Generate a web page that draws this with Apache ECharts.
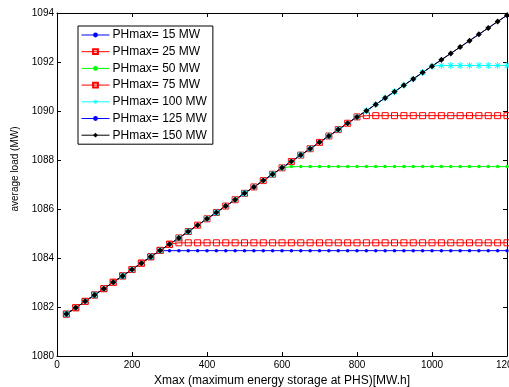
<!DOCTYPE html>
<html>
<head>
<meta charset="utf-8">
<script src="https://cdn.jsdelivr.net/npm/echarts@6/dist/echarts.min.js"></script>
<style>
html,body{margin:0;padding:0;background:#fff;}
#chart{width:509px;height:387px;}
</style>
</head>
<body>
<div id="chart"></div>
<script>
// X values: Xmax (maximum energy storage at PHS) [MW.h]
var xValues = [25,50,75,100,125,150,175,200,225,250,
  275,300,325,350,375,400,425,450,475,500,
  525,550,575,600,625,650,675,700,725,750,
  775,800,825,850,875,900,925,950,975,1000,
  1025,1050,1075,1100,1125,1150,1175,1200];

var seriesNames = ['PHmax= 15 MW','PHmax= 25 MW','PHmax= 50 MW','PHmax= 75 MW','PHmax= 100 MW','PHmax= 125 MW','PHmax= 150 MW'];

var s15 = [1081.71,1081.97,1082.23,1082.49,1082.75,1083.01,1083.27,1083.53,1083.79,1084.05,
  1084.30,1084.30,1084.30,1084.30,1084.30,1084.30,1084.30,1084.30,1084.30,1084.30,
  1084.30,1084.30,1084.30,1084.30,1084.30,1084.30,1084.30,1084.30,1084.30,1084.30,
  1084.30,1084.30,1084.30,1084.30,1084.30,1084.30,1084.30,1084.30,1084.30,1084.30,
  1084.30,1084.30,1084.30,1084.30,1084.30,1084.30,1084.30,1084.30];

var s25 = [1081.71,1081.97,1082.23,1082.49,1082.75,1083.01,1083.27,1083.53,1083.79,1084.05,
  1084.31,1084.56,1084.62,1084.62,1084.62,1084.62,1084.62,1084.62,1084.62,1084.62,
  1084.62,1084.62,1084.62,1084.62,1084.62,1084.62,1084.62,1084.62,1084.62,1084.62,
  1084.62,1084.62,1084.62,1084.62,1084.62,1084.62,1084.62,1084.62,1084.62,1084.62,
  1084.62,1084.62,1084.62,1084.62,1084.62,1084.62,1084.62,1084.62];

var s50 = [1081.71,1081.97,1082.23,1082.49,1082.75,1083.01,1083.27,1083.53,1083.79,1084.05,
  1084.31,1084.56,1084.82,1085.08,1085.34,1085.60,1085.86,1086.12,1086.38,1086.64,
  1086.90,1087.16,1087.42,1087.68,1087.73,1087.73,1087.73,1087.73,1087.73,1087.73,
  1087.73,1087.73,1087.73,1087.73,1087.73,1087.73,1087.73,1087.73,1087.73,1087.73,
  1087.73,1087.73,1087.73,1087.73,1087.73,1087.73,1087.73,1087.73];

var s75 = [1081.71,1081.97,1082.23,1082.49,1082.75,1083.01,1083.27,1083.53,1083.79,1084.05,
  1084.31,1084.56,1084.82,1085.08,1085.34,1085.60,1085.86,1086.12,1086.38,1086.64,
  1086.90,1087.16,1087.42,1087.68,1087.94,1088.20,1088.46,1088.72,1088.98,1089.24,
  1089.50,1089.76,1089.81,1089.81,1089.81,1089.81,1089.81,1089.81,1089.81,1089.81,
  1089.81,1089.81,1089.81,1089.81,1089.81,1089.81,1089.81,1089.81];

var s100 = [1081.71,1081.97,1082.23,1082.49,1082.75,1083.01,1083.27,1083.53,1083.79,1084.05,
  1084.31,1084.56,1084.82,1085.08,1085.34,1085.60,1085.86,1086.12,1086.38,1086.64,
  1086.90,1087.16,1087.42,1087.68,1087.94,1088.20,1088.46,1088.72,1088.98,1089.24,
  1089.50,1089.76,1090.01,1090.27,1090.53,1090.79,1091.05,1091.31,1091.57,1091.83,
  1091.86,1091.86,1091.86,1091.86,1091.86,1091.86,1091.86,1091.86];

var s125 = [1081.71,1081.97,1082.23,1082.49,1082.75,1083.01,1083.27,1083.53,1083.79,1084.05,
  1084.31,1084.56,1084.82,1085.08,1085.34,1085.60,1085.86,1086.12,1086.38,1086.64,
  1086.90,1087.16,1087.42,1087.68,1087.94,1088.20,1088.46,1088.72,1088.98,1089.24,
  1089.50,1089.76,1090.01,1090.27,1090.53,1090.79,1091.05,1091.31,1091.57,1091.83,
  1092.09,1092.35,1092.61,1092.87,1093.13,1093.39,1093.65,1093.91];

var s150 = [1081.71,1081.97,1082.23,1082.49,1082.75,1083.01,1083.27,1083.53,1083.79,1084.05,
  1084.31,1084.56,1084.82,1085.08,1085.34,1085.60,1085.86,1086.12,1086.38,1086.64,
  1086.90,1087.16,1087.42,1087.68,1087.94,1088.20,1088.46,1088.72,1088.98,1089.24,
  1089.50,1089.76,1090.01,1090.27,1090.53,1090.79,1091.05,1091.31,1091.57,1091.83,
  1092.09,1092.35,1092.61,1092.87,1093.13,1093.39,1093.65,1093.91];

var allSeries = [s15, s25, s50, s75, s100, s125, s150];

var xTitle = 'Xmax (maximum energy storage at PHS)[MW.h]';
var yTitle = 'average load (MW)';

var asterisk = 'path://M-0.6,-5L0.6,-5L0.6,5L-0.6,5Z M-5,-0.6L5,-0.6L5,0.6L-5,0.6Z M3.92,3.08L3.08,3.92L-3.92,-3.08L-3.08,-3.92Z M3.08,-3.92L3.92,-3.08L-3.08,3.92L-3.92,3.08Z';

var styles = [
  {color:'#0000ff', symbol:'circle', size:3.5, fill:'#0000ff'},
  {color:'#ff0000', symbol:'rect', size:6, fill:'rgba(255,255,255,0)'},
  {color:'#00ff00', symbol:'circle', size:3.5, fill:'#00ff00'},
  {color:'#ff0000', symbol:'rect', size:6, fill:'rgba(255,255,255,0)'},
  {color:'#00ffff', symbol:asterisk, size:7, fill:'#00ffff'},
  {color:'#0000ff', symbol:'circle', size:3.5, fill:'#0000ff'},
  {color:'#000000', symbol:'diamond', size:6, fill:'#000000'}
];

var FONT = "'Liberation Sans', Arial, Helvetica, sans-serif";

var series = allSeries.map(function(vals, i){
  var st = styles[i];
  var isEmpty = st.fill.indexOf('rgba') === 0;
  return {
    name: seriesNames[i],
    type: 'line',
    xAxisIndex: 0,
    yAxisIndex: 0,
    data: xValues.map(function(x, j){ return [x, vals[j]]; }),
    symbol: st.symbol,
    symbolSize: st.size,
    showSymbol: true,
    lineStyle: {color: st.color, width: 1},
    itemStyle: {color: st.fill, borderColor: st.color, borderWidth: isEmpty ? 1 : 0},
    emphasis: {disabled: true},
    animation: false
  };
});

var plain = function(v){ return String(v); };

var chart = echarts.init(document.getElementById('chart'), null, {renderer:'canvas'});
chart.setOption({
  backgroundColor: '#ffffff',
  animation: false,
  grid: {left: 57, right: 2, top: 13, bottom: 31, containLabel: false, outerBoundsMode: 'none'},
  xAxis: [{
    type: 'value', min: 0, max: 1200, interval: 200, position: 'bottom',
    axisLine: {show: true, lineStyle: {color: '#000', width: 1}},
    axisTick: {show: true, inside: true, length: 4, lineStyle: {color: '#000'}},
    axisLabel: {color: '#000', fontSize: 10, fontFamily: FONT, margin: 4, showMaxLabel: true, hideOverlap: false, formatter: plain},
    splitLine: {show: false},
    name: xTitle, nameLocation: 'middle', nameGap: 16,
    nameTextStyle: {color: '#000', fontSize: 12, fontFamily: FONT}
  },{
    type: 'value', min: 0, max: 1200, interval: 200, position: 'top',
    axisLine: {show: true, onZero: false, lineStyle: {color: '#000', width: 1}},
    axisTick: {show: true, inside: true, length: 4, lineStyle: {color: '#000'}},
    axisLabel: {show: false},
    splitLine: {show: false}
  }],
  yAxis: [{
    type: 'value', min: 1080, max: 1094, interval: 2, position: 'left',
    axisLine: {show: true, lineStyle: {color: '#000', width: 1}},
    axisTick: {show: true, inside: true, length: 4, lineStyle: {color: '#000'}},
    axisLabel: {color: '#000', fontSize: 10, fontFamily: FONT, margin: 3, formatter: plain},
    splitLine: {show: false}
  },{
    type: 'value', min: 1080, max: 1094, interval: 2, position: 'right',
    axisLine: {show: true, onZero: false, lineStyle: {color: '#000', width: 1}},
    axisTick: {show: true, inside: true, length: 4, lineStyle: {color: '#000'}},
    axisLabel: {show: false},
    splitLine: {show: false}
  }],
  legend: {
    orient: 'vertical', left: 78, top: 26,
    data: seriesNames,
    backgroundColor: '#ffffff', borderColor: '#000', borderWidth: 1, borderRadius: 0,
    padding: [3, 6, 3, 3],
    itemWidth: 28, itemHeight: 6, itemGap: 4.7,
    lineStyle: {width: 1},
    textStyle: {color: '#000', fontSize: 12, fontFamily: FONT, padding: [0,0,0,-2]},
    selectedMode: false
  },
  graphic: [{
    type: 'text', x: 15, y: 169, rotation: Math.PI/2,
    style: {text: yTitle, fill: '#000', font: "10px 'Liberation Sans', Arial, sans-serif", textAlign: 'center', textVerticalAlign: 'middle'}
  }],
  series: series
});
</script>
</body>
</html>
